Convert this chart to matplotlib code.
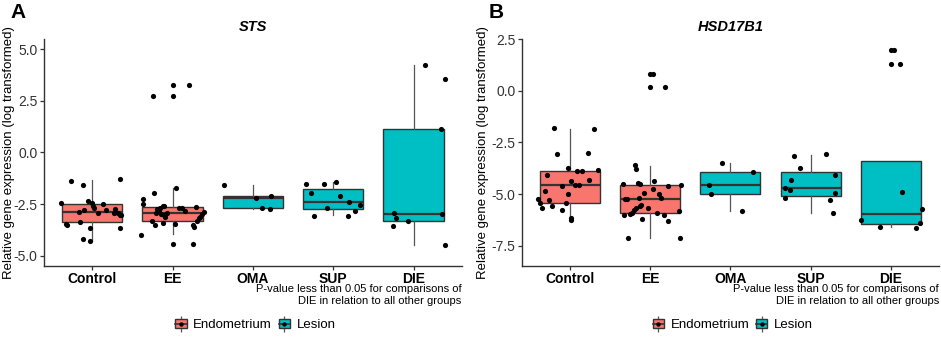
import matplotlib
matplotlib.use("Agg")
import matplotlib.pyplot as plt
from matplotlib.lines import Line2D
from matplotlib.patches import Patch

plt.rcParams['font.family'] = ['Liberation Sans', 'DejaVu Sans']

groups = ["Control", "EE", "OMA", "SUP", "DIE"]
tissue = ["Endometrium", "Endometrium", "Lesion", "Lesion", "Lesion"]
fills = {"Endometrium": "#F8766D", "Lesion": "#00BFC4"}

# box stats per group: (lower whisker, q1, median, q3, upper whisker)
sts_box = [(-4.29, -3.35, -2.87, -2.48, -1.32),
           (-3.95, -3.32, -2.95, -2.66, -1.71),
           (-2.75, -2.71, -2.20, -2.10, -1.58),
           (-3.03, -2.75, -2.39, -1.76, -1.42),
           (-4.48, -3.32, -3.00, 1.11, 4.22)]
hsd_box = [(-6.30, -5.42, -4.57, -3.87, -1.84),
           (-7.15, -5.91, -5.24, -4.55, -3.63),
           (-5.81, -4.99, -4.55, -3.95, -3.50),
           (-5.91, -5.08, -4.73, -3.92, -3.10),
           (-6.59, -6.46, -5.97, -3.39, -3.39)]

# jittered points per group: (horizontal jitter, value)
sts_pts = {
    "Control": [(-0.39, -2.43), (-0.26, -1.40), (-0.12, -1.56), (-0.32, -3.48), (-0.31, -3.54),
                (-0.15, -3.35), (-0.17, -2.88), (-0.10, -2.80), (-0.12, -4.17), (-0.03, -4.29),
                (-0.03, -3.64), (-0.05, -2.34), (0.00, -2.46), (0.01, -2.59), (0.02, -2.67),
                (0.07, -2.93), (0.14, -2.48), (0.17, -2.80), (0.27, -2.95), (0.28, -2.74),
                (0.32, -2.93), (0.34, -3.04), (0.36, -3.04), (0.34, -1.30), (0.34, -3.64)],
    "EE": [(-0.245, 2.73), (0.00, 2.73), (0.00, 3.28), (0.20, 3.28), (-0.39, -3.98),
           (-0.365, -2.27), (-0.365, -2.51), (-0.23, -1.97), (0.04, -1.72), (-0.25, -3.32),
           (-0.22, -3.54), (-0.21, -2.95), (-0.19, -2.74), (-0.17, -2.80), (-0.15, -2.67),
           (-0.14, -3.00), (-0.12, -2.58), (-0.11, -3.04), (-0.10, -2.58), (-0.09, -3.14),
           (-0.12, -3.43), (-0.07, -2.95), (0.00, -4.42), (0.03, -3.45), (0.08, -2.71),
           (0.12, -2.71), (0.15, -2.85), (0.25, -4.42), (0.25, -3.53), (0.27, -3.59),
           (0.29, -2.64), (0.31, -3.32), (0.33, -3.19), (0.37, -2.98), (0.39, -2.90),
           (0.34, -3.11)],
    "OMA": [(-0.36, -1.58), (0.04, -2.19), (0.23, -2.10), (0.11, -2.71), (0.21, -2.75)],
    "SUP": [(-0.34, -1.52), (-0.28, -1.97), (-0.24, -3.06), (-0.11, -1.53), (-0.08, -2.69),
            (0.04, -1.42), (0.08, -2.11), (0.19, -3.06), (0.20, -2.39), (0.27, -2.82),
            (0.34, -2.53)],
    "DIE": [(0.14, 4.22), (0.39, 3.54), (0.34, 1.11), (0.36, -3.00), (0.39, -4.49),
            (-0.24, -2.95), (-0.22, -3.19), (-0.26, -3.56), (-0.07, -3.32)],
}
hsd_pts = {
    "Control": [(-0.20, -1.82), (0.295, -1.87), (-0.16, -3.05), (0.22, -3.03), (-0.29, -4.08),
                (-0.02, -3.73), (0.09, -3.89), (0.15, -3.89), (0.35, -3.83), (0.24, -4.34),
                (0.02, -4.39), (0.06, -4.57), (0.11, -4.57), (-0.10, -4.61), (-0.315, -4.87),
                (-0.025, -5.00), (-0.40, -5.24), (-0.37, -5.42), (-0.26, -5.28), (-0.22, -5.57),
                (-0.35, -5.67), (-0.095, -5.76), (-0.05, -5.45), (0.01, -6.16), (0.02, -6.26)],
    "EE": [(0.00, 0.84), (0.03, 0.84), (0.00, 0.18), (0.19, 0.18), (-0.34, -4.50),
           (-0.19, -3.61), (-0.17, -3.79), (-0.15, -4.47), (-0.12, -4.52), (0.05, -4.37),
           (-0.08, -4.95), (0.04, -4.76), (0.11, -5.00), (-0.29, -5.23), (-0.31, -5.24),
           (-0.33, -6.03), (-0.28, -7.15), (-0.245, -5.99), (-0.23, -5.91), (-0.20, -5.78),
           (-0.18, -5.70), (-0.125, -5.60), (-0.11, -5.54), (-0.14, -5.21), (-0.10, -6.21),
           (-0.03, -5.68), (0.09, -5.91), (0.13, -5.21), (0.17, -6.00), (0.22, -6.33),
           (0.22, -4.60), (0.39, -4.57), (0.36, -5.83), (0.37, -7.15)],
    "OMA": [(-0.10, -3.50), (0.28, -3.95), (-0.27, -4.55), (-0.24, -4.99), (0.14, -5.83)],
    "SUP": [(-0.21, -3.15), (0.19, -3.08), (-0.13, -3.76), (-0.24, -4.32), (-0.32, -4.70),
            (-0.26, -4.82), (-0.32, -5.20), (0.30, -4.07), (0.30, -4.94), (0.24, -5.31),
            (0.28, -5.91)],
    "DIE": [(0.00, 1.99), (0.04, 1.99), (0.00, 1.29), (0.12, 1.29), (0.14, -4.92),
            (0.39, -5.71), (-0.37, -6.26), (-0.13, -6.60), (0.31, -6.65), (0.36, -6.42)],
}

sts_ticks = [-5.0, -2.5, 0.0, 2.5, 5.0]
hsd_ticks = [-7.5, -5.0, -2.5, 0.0, 2.5]
note = "P-value less than 0.05 for comparisons of\nDIE in relation to all other groups"
ylab = "Relative gene expression (log transformed)"

W, H = 941, 341
fig = plt.figure(figsize=(W / 100, H / 100), dpi=100)


def panel(left, right, stats, pts, ylim, ticks, title, letter, lab_x):
    ax = fig.add_axes([left / W, 1 - 266 / H, (right - left) / W, (266 - 39.3) / H])
    bx = [dict(whislo=s[0], q1=s[1], med=s[2], q3=s[3], whishi=s[4]) for s in stats]
    parts = ax.bxp(bx, positions=range(1, 6), widths=0.75, showfliers=False,
                   showcaps=False, patch_artist=True,
                   boxprops=dict(edgecolor="#333333", linewidth=1.0),
                   whiskerprops=dict(color="#555555", linewidth=0.9),
                   medianprops=dict(color="#333333", linewidth=1.6))
    for patch, t in zip(parts["boxes"], tissue):
        patch.set_facecolor(fills[t])
    for i, g in enumerate(groups):
        xs = [i + 1 + d for d, v in pts[g]]
        ys = [v for d, v in pts[g]]
        ax.scatter(xs, ys, s=14, color="black", linewidths=0, zorder=3)
    ax.set_xlim(0.4, 5.6)
    ax.set_ylim(*ylim)
    ax.set_xticks(range(1, 6))
    ax.set_xticklabels(groups, fontsize=10, fontweight="bold", color="black")
    ax.set_yticks(ticks)
    ax.set_yticklabels([f"{v:.1f}" for v in ticks], fontsize=10, color="#333333")
    for sp in ["top", "right"]:
        ax.spines[sp].set_visible(False)
    for sp in ["left", "bottom"]:
        ax.spines[sp].set_color("#333333")
        ax.spines[sp].set_linewidth(1.0)
    ax.tick_params(length=3, width=0.9, color="#333333", pad=1.5)
    ax.tick_params(axis="x", pad=1.0)
    cx = (left + right) / 2
    fig.text(cx / W, 1 - 30.7 / H, title, ha="center", va="baseline",
             fontsize=10.5, fontweight="bold", fontstyle="italic")
    fig.text((left - 33.5) / W, 1 - 18.3 / H, letter, ha="left", va="baseline",
             fontsize=15, fontweight="bold")
    fig.text(lab_x / W, 1 - 152.7 / H, ylab, rotation=90, ha="center", va="center",
             fontsize=9.5)
    fig.text(right / W, 1 - 295 / H, note, ha="right", va="center", fontsize=8,
             linespacing=1.15)
    handles = []
    for t in ["Endometrium", "Lesion"]:
        whisk = Line2D([], [], linestyle="none", marker="|", markersize=12,
                       markeredgewidth=0.9, color="#555555")
        box = Patch(facecolor=fills[t], edgecolor="#333333", linewidth=1.0)
        med = Line2D([], [], color="#333333", linewidth=1.2, marker="o",
                     markersize=3.2, markerfacecolor="black", markeredgewidth=0)
        handles.append((whisk, box, med))
    fig.legend(handles, ["Endometrium", "Lesion"], loc="center",
               bbox_to_anchor=((cx + 2.5) / W, 1 - 325 / H), ncol=2, frameon=False,
               fontsize=9.5, handlelength=0.86, handletextpad=0.5, columnspacing=0.5)
    return ax


panel(44, 461.7, sts_box, sts_pts, (-5.5, 5.47), sts_ticks, "STS", "A", 9)
panel(521.7, 939, hsd_box, hsd_pts, (-8.49, 2.49), hsd_ticks, "HSD17B1", "B", 483.5)

fig.savefig("out.png", dpi=100)
